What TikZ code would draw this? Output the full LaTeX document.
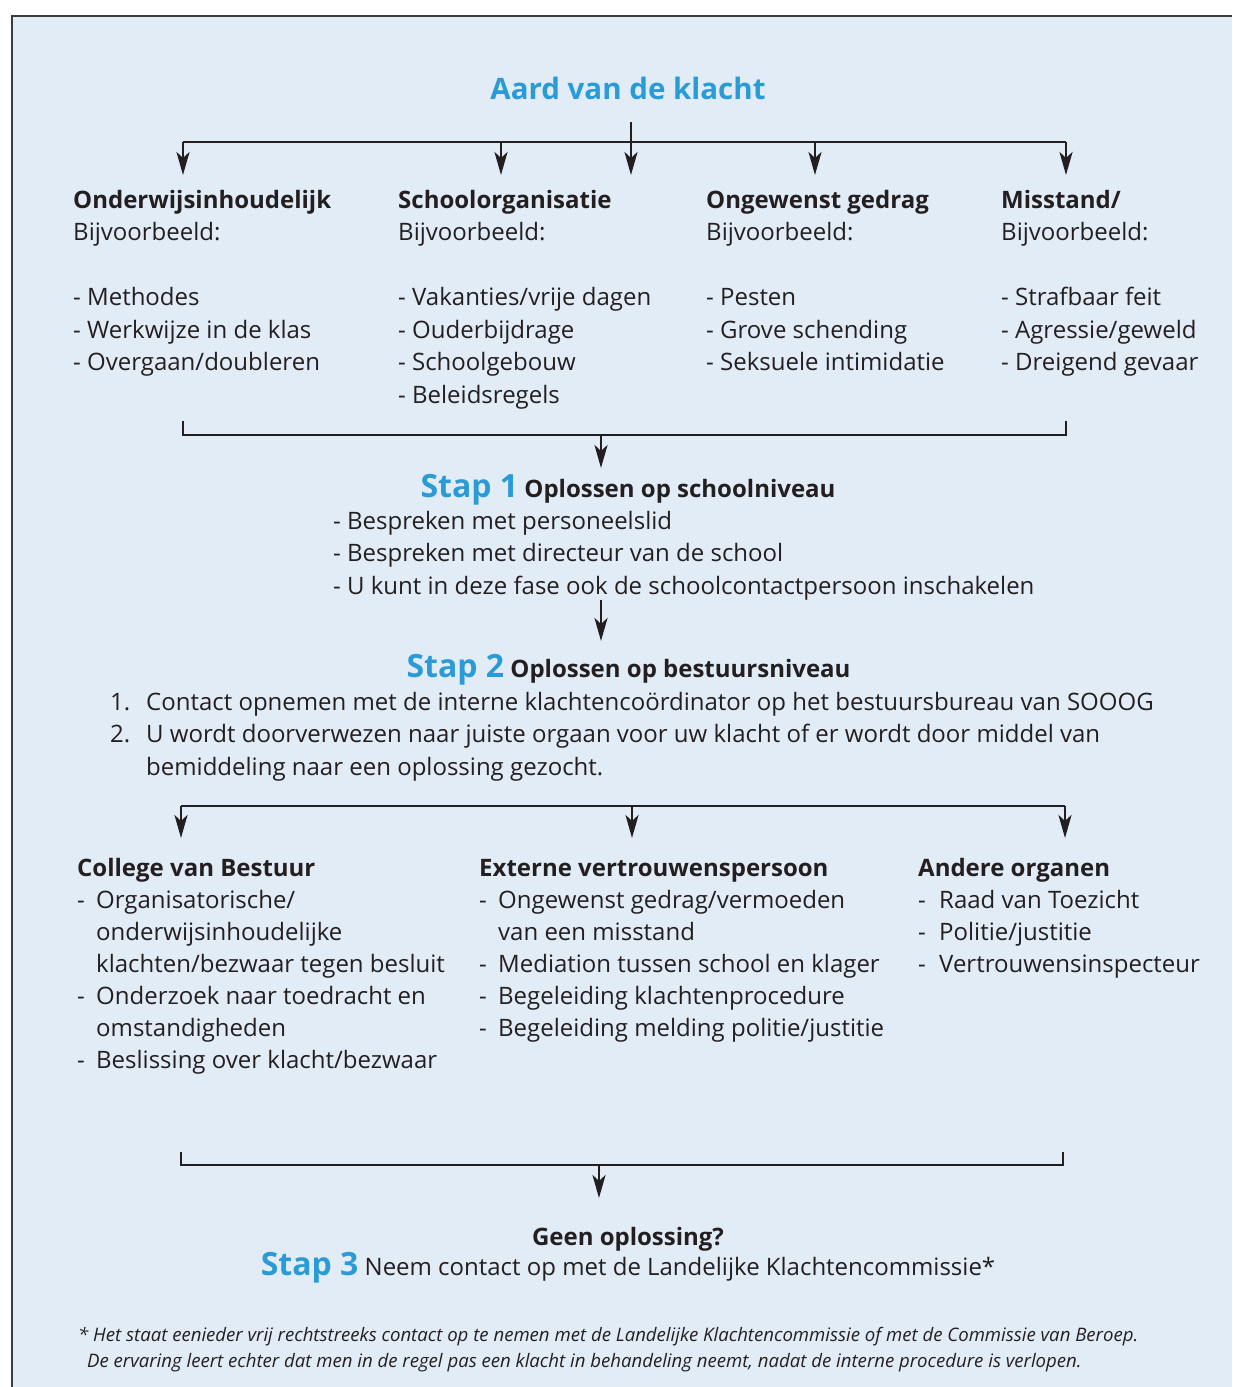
\documentclass[tikz,border=0pt]{standalone}
\usepackage{fontspec}
\setmainfont{Open Sans}
\usetikzlibrary{arrows.meta}
\definecolor{klachtblauw}{RGB}{42,155,215}
\definecolor{vlakblauw}{RGB}{226,236,247}
\definecolor{inkt}{RGB}{35,31,32}
\definecolor{rand}{RGB}{60,60,60}
\newcommand{\strp}{\makebox[19pt][l]{-}}
\newcommand{\inspr}{\hspace*{19pt}}
% multi-line nodes: base = baseline of the last line
\tikzset{
  txt/.style={anchor=base west, inner sep=0pt, align=left, text=inkt,
    font=\fontsize{24}{32.5}\selectfont},
  onder/.style={txt, font=\fontsize{24}{32}\selectfont},
  stap/.style={anchor=base, inner sep=0pt, text=inkt, font=\fontsize{24}{32.5}\selectfont},
  lijn/.style={line width=2.8pt, draw=inkt},
  pijl/.style={lijn, -{Stealth[length=23pt,width=13pt,inset=6pt]}},
}
\newcommand{\stapnr}[1]{{\color{klachtblauw}\fontsize{32}{36}\selectfont\bfseries Stap #1}}
\begin{document}
\begin{tikzpicture}[x=1pt,y=-1pt]
\useasboundingbox (0,0) rectangle (1232,1387);
\fill[vlakblauw] (12,16) rectangle (1232,1387);
\draw[rand, line width=2pt] (12,1387) -- (12,16) -- (1232,16);

% aard van de klacht
\node[anchor=base, inner sep=0pt, text=klachtblauw, font=\fontsize{29.5}{34}\selectfont\bfseries] (aard) at (628,99) {Aard van de klacht};
\coordinate (aardvoet) at (631,122);
\coordinate (aardpunt) at (631,175);
\coordinate (balk1l) at (183,142);
\coordinate (balk1r) at (1066,142);
\draw[lijn] (balk1l) -- (balk1r);
\foreach \x [count=\i] in {183,501,815,1066} {
  \coordinate (boven\i) at (\x,142);
  \coordinate (soort\i) at (\x,175);
  \draw[pijl] (boven\i) -- (soort\i);
}
\draw[pijl] (aardvoet) -- (aardpunt);

% soorten klachten
\node[txt] (onderwijs) at (73,370.5) {\textbf{Onderwijsinhoudelijk}\\Bijvoorbeeld:\\[32.5pt]- Methodes\\- Werkwijze in de klas\\- Overgaan/doubleren};
\node[txt] (organisatie) at (398,403) {\textbf{Schoolorganisatie}\\Bijvoorbeeld:\\[32.5pt]- Vakanties/vrije dagen\\- Ouderbijdrage\\- Schoolgebouw\\- Beleidsregels};
\node[txt] (gedrag) at (706,370.5) {\textbf{Ongewenst gedrag}\\Bijvoorbeeld:\\[32.5pt]- Pesten\\- Grove schending\\- Seksuele intimidatie};
\node[txt] (misstand) at (1001,370.5) {\textbf{Misstand/}\\Bijvoorbeeld:\\[32.5pt]- Strafbaar feit\\- Agressie/geweld\\- Dreigend gevaar};

% haak naar stap 1
\coordinate (haak1l) at (183,421);
\coordinate (haak1r) at (1066,421);
\coordinate (haak1m) at (601,435);
\coordinate (stap1punt) at (601,468);
\draw[lijn] (haak1l) -- ++(0,14) -| (haak1r);
\draw[pijl] (haak1m) -- (stap1punt);

% stap 1
\node[stap] (stap1) at (628,497) {\stapnr{1} \textbf{Oplossen op schoolniveau}};
\node[txt] (school) at (333,594) {- Bespreken met personeelslid\\- Bespreken met directeur van de school\\- U kunt in deze fase ook de schoolcontactpersoon inschakelen};
\coordinate (school1) at (601,600);
\coordinate (stap2punt) at (601,641);
\draw[pijl] (school1) -- (stap2punt);

% stap 2
\node[stap] (stap2) at (628.5,677) {\stapnr{2} \textbf{Oplossen op bestuursniveau}};
\node[txt] (bestuur) at (110,775) {\makebox[36pt][l]{1.}Contact opnemen met de interne klachtencoördinator op het bestuursbureau van SOOOG\\\makebox[36pt][l]{2.}U wordt doorverwezen naar juiste orgaan voor uw klacht of er wordt door middel van\\\hspace*{36pt}bemiddeling naar een oplossing gezocht.};
\coordinate (balk2l) at (181,806);
\coordinate (balk2r) at (1065,806);
\draw[lijn] (balk2l) -- (balk2r);
\foreach \x [count=\i] in {181,632,1065} {
  \coordinate (midden\i) at (\x,806);
  \coordinate (orgaan\i) at (\x,838);
  \draw[pijl] (midden\i) -- (orgaan\i);
}

% organen
\node[onder] (college) at (77,1068) {\textbf{College van Bestuur}\\\strp Organisatorische/\\\inspr onderwijsinhoudelijke\\\inspr klachten/bezwaar tegen besluit\\\strp Onderzoek naar toedracht en\\\inspr omstandigheden\\\strp Beslissing over klacht/bezwaar};
\node[onder] (extern) at (479,1036) {\textbf{Externe vertrouwenspersoon}\\\strp Ongewenst gedrag/vermoeden\\\inspr van een misstand\\\strp Mediation tussen school en klager\\\strp Begeleiding klachtenprocedure\\\strp Begeleiding melding politie/justitie};
\node[onder] (andere) at (918,972) {\textbf{Andere organen}\\\makebox[21pt][l]{-}Raad van Toezicht\\\makebox[21pt][l]{-}Politie/justitie\\\makebox[21pt][l]{-}Vertrouwensinspecteur};

% haak naar stap 3
\coordinate (haak3l) at (181,1152);
\coordinate (haak3r) at (1063,1152);
\coordinate (haak3m) at (599,1165);
\coordinate (stap3punt) at (599,1198);
\draw[lijn] (haak3l) -- ++(0,13) -| (haak3r);
\draw[pijl] (haak3m) -- (stap3punt);

% stap 3
\node[stap, font=\fontsize{24}{32.5}\selectfont\bfseries] (geen) at (628,1245) {Geen oplossing?};
\node[stap] (stap3) at (628,1275) {\stapnr{3} Neem contact op met de Landelijke Klachtencommissie*};

% voetnoot
\node[txt, font=\fontsize{18.6}{26}\selectfont\itshape] (voetnoot) at (78,1367) {* Het staat eenieder vrij rechtstreeks contact op te nemen met de Landelijke Klachtencommissie of met de Commissie van Beroep.\\\hspace*{9pt}De ervaring leert echter dat men in de regel pas een klacht in behandeling neemt, nadat de interne procedure is verlopen.};
\end{tikzpicture}
\end{document}
